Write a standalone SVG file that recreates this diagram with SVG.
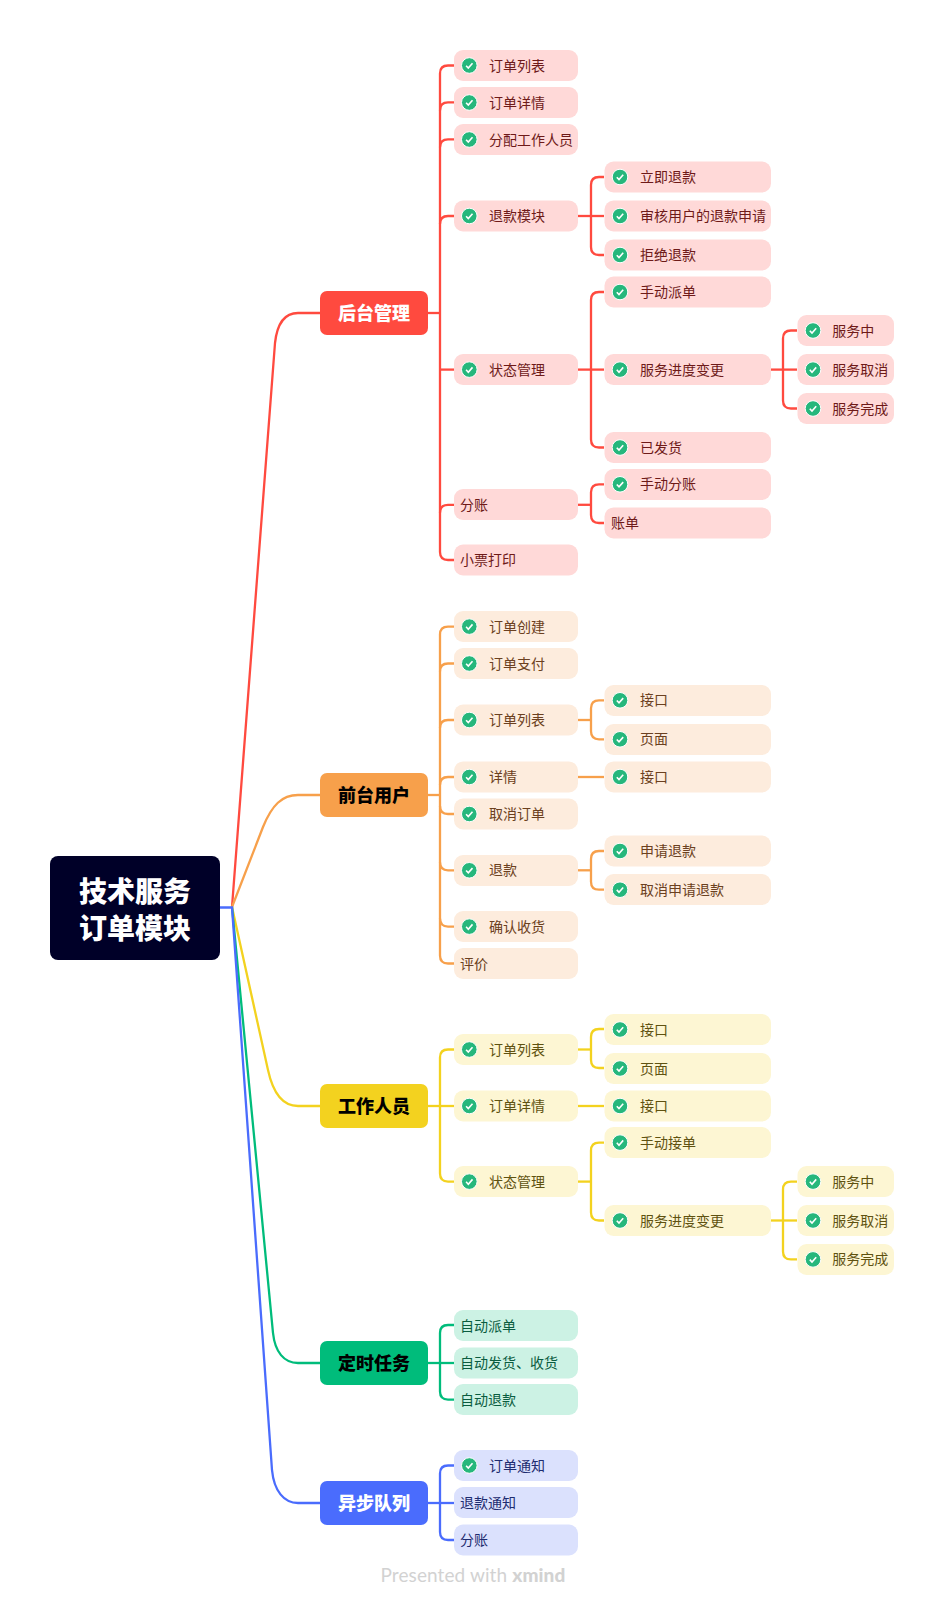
<svg xmlns="http://www.w3.org/2000/svg" width="944" height="1606" viewBox="0 0 944 1606">
<style>
text{font-family:"Noto Sans CJK SC","Noto Sans",sans-serif;font-size:14px;dominant-baseline:central;transform:translateY(-1px)}
.c path{fill:none;stroke-width:2.3}
.cr path{stroke:#ff4a3f}.co path{stroke:#f7a04b}.cy path{stroke:#f3d21f}.cg path{stroke:#00bc7b}.cb path{stroke:#4a6cfd}
.r rect{fill:#ffd9d8}.r text{fill:#6e1a18}
.o rect{fill:#fdecdd}.o text{fill:#6b4020}
.y rect{fill:#fdf6d3}.y text{fill:#5f5210}
.g rect{fill:#ccf2e4}.g text{fill:#0a5c40}
.b rect{fill:#dbe1fd}.b text{fill:#1e2c70}
.t text{font-size:18px;font-weight:900;text-anchor:middle}
.t rect{rx:7px}
.n rect{rx:9px}
#root text{font-size:28px;font-weight:900;fill:#fff;text-anchor:middle}
</style>
<defs>
<g id="chk"><circle r="7.8" fill="#26b77c" stroke="#fff" stroke-width="1"/><path d="M-3.2 0.2L-1 2.6L3.2-2.2" fill="none" stroke="#fff" stroke-width="1.6"/></g>
</defs>
<rect width="944" height="1606" fill="#fff"/>
<g id="connectors" class="c">
<g class="cr">
<path d="M232 907L275 343C277 325 284 313 298 313H320"/>
<path d="M428 313H440"/>
<path d="M454 65.5H448Q440 65.5 440 73.5V552Q440 560 448 560H454"/>
<path d="M440 110.4Q440 102.4 448 102.4H454"/>
<path d="M440 147.3Q440 139.3 448 139.3H454"/>
<path d="M440 224Q440 216 448 216H454"/>
<path d="M440 369.6H454"/>
<path d="M440 512.8Q440 504.8 448 504.8H454"/>
<path d="M578 216H604"/>
<path d="M604 177H599Q591 177 591 185V247Q591 255 599 255H604"/>
<path d="M578 369.6H604"/>
<path d="M604 292H599Q591 292 591 300V439.5Q591 447.5 599 447.5H604"/>
<path d="M578 504.8H591"/>
<path d="M604 484.3H599Q591 484.3 591 492.3V515Q591 523 599 523H604"/>
<path d="M771 369.6H797"/>
<path d="M797 330.5H791Q783 330.5 783 338.5V400.5Q783 408.5 791 408.5H797"/>
</g>
<g class="co">
<path d="M232 907L263 827C272 805 282 795 298 795H320"/>
<path d="M428 795H440"/>
<path d="M454 626.6H448Q440 626.6 440 634.6V955.5Q440 963.5 448 963.5H454"/>
<path d="M440 671.5Q440 663.5 448 663.5H454"/>
<path d="M440 728Q440 720 448 720H454"/>
<path d="M440 785Q440 777 448 777H454"/>
<path d="M440 806Q440 814 448 814H454"/>
<path d="M440 862.3Q440 870.3 448 870.3H454"/>
<path d="M440 918.6Q440 926.6 448 926.6H454"/>
<path d="M578 720H591"/>
<path d="M604 700.3H599Q591 700.3 591 708.3V731.3Q591 739.3 599 739.3H604"/>
<path d="M578 777H604"/>
<path d="M578 870.3H591"/>
<path d="M604 851H599Q591 851 591 859V881.7Q591 889.7 599 889.7H604"/>
</g>
<g class="cy">
<path d="M232 907L268 1070C273 1093 283 1106 298 1106H320"/>
<path d="M428 1106H454"/>
<path d="M454 1049.5H448Q440 1049.5 440 1057.5V1173.6Q440 1181.6 448 1181.6H454"/>
<path d="M578 1049.5H591"/>
<path d="M604 1029H599Q591 1029 591 1037V1060Q591 1068 599 1068H604"/>
<path d="M578 1106H604"/>
<path d="M578 1181.6H591"/>
<path d="M604 1142.6H599Q591 1142.6 591 1150.6V1212.5Q591 1220.5 599 1220.5H604"/>
<path d="M771 1220.5H797"/>
<path d="M797 1181.6H791Q783 1181.6 783 1189.6V1251.4Q783 1259.4 791 1259.4H797"/>
</g>
<g class="cg">
<path d="M232 907L273 1333C275 1352 284 1363 298 1363H320"/>
<path d="M428 1363H454"/>
<path d="M454 1325H448Q440 1325 440 1333V1391.6Q440 1399.6 448 1399.6H454"/>
</g>
<g class="cb">
<path d="M220 907.5H232L272 1470C274 1491 284 1503 298 1503H320"/>
<path d="M428 1503H454"/>
<path d="M454 1465.5H448Q440 1465.5 440 1473.5V1532Q440 1540 448 1540H454"/>
</g>
</g>

<g id="root"><rect x="50" y="856" width="170" height="104" rx="8" fill="#000028"/><text x="135" y="891">技术服务</text><text x="135" y="928">订单模块</text></g>

<g id="n-backend" class="t"><rect x="320" y="291" width="108" height="44" fill="#ff4a3f"/><text x="374" y="313" fill="#fff">后台管理</text></g>
<g id="n-front" class="t"><rect x="320" y="773" width="108" height="44" fill="#f7a04b"/><text x="374" y="795" fill="#000">前台用户</text></g>
<g id="n-worker" class="t"><rect x="320" y="1084" width="108" height="44" fill="#f3d21f"/><text x="374" y="1106" fill="#000">工作人员</text></g>
<g id="n-timer" class="t"><rect x="320" y="1341" width="108" height="44" fill="#00bc7b"/><text x="374" y="1363" fill="#000">定时任务</text></g>
<g id="n-queue" class="t"><rect x="320" y="1481" width="108" height="44" fill="#4a6cfd"/><text x="374" y="1503" fill="#fff">异步队列</text></g>

<g class="n r">
<g id="r1"><rect x="454" y="50" width="124" height="31"/><use href="#chk" x="469.3" y="65.5"/><text x="489" y="65.5">订单列表</text></g>
<g id="r2"><rect x="454" y="87" width="124" height="31"/><use href="#chk" x="469.3" y="102.5"/><text x="489" y="102.5">订单详情</text></g>
<g id="r3"><rect x="454" y="124" width="124" height="31"/><use href="#chk" x="469.3" y="139.5"/><text x="489" y="139.5">分配工作人员</text></g>
<g id="r4"><rect x="454" y="200.5" width="124" height="31"/><use href="#chk" x="469.3" y="216"/><text x="489" y="216">退款模块</text></g>
<g id="r41"><rect x="604.5" y="161.5" width="166.5" height="31"/><use href="#chk" x="620" y="177"/><text x="640" y="177">立即退款</text></g>
<g id="r42"><rect x="604.5" y="200.5" width="166.5" height="31"/><use href="#chk" x="620" y="216"/><text x="640" y="216">审核用户的退款申请</text></g>
<g id="r43"><rect x="604.5" y="239.5" width="166.5" height="31"/><use href="#chk" x="620" y="255"/><text x="640" y="255">拒绝退款</text></g>
<g id="r5"><rect x="454" y="354" width="124" height="31"/><use href="#chk" x="469.3" y="369.6"/><text x="489" y="369.6">状态管理</text></g>
<g id="r51"><rect x="604.5" y="276.5" width="166.5" height="31"/><use href="#chk" x="620" y="292"/><text x="640" y="292">手动派单</text></g>
<g id="r52"><rect x="604.5" y="354" width="166.5" height="31"/><use href="#chk" x="620" y="369.6"/><text x="640" y="369.6">服务进度变更</text></g>
<g id="r521"><rect x="797.5" y="315" width="96.5" height="31"/><use href="#chk" x="813" y="330.5"/><text x="832.3" y="330.5">服务中</text></g>
<g id="r522"><rect x="797.5" y="354" width="96.5" height="31"/><use href="#chk" x="813" y="369.6"/><text x="832.3" y="369.6">服务取消</text></g>
<g id="r523"><rect x="797.5" y="393" width="96.5" height="31"/><use href="#chk" x="813" y="408.5"/><text x="832.3" y="408.5">服务完成</text></g>
<g id="r53"><rect x="604.5" y="432" width="166.5" height="31"/><use href="#chk" x="620" y="447.5"/><text x="640" y="447.5">已发货</text></g>
<g id="r6"><rect x="454" y="489" width="124" height="31"/><text x="460" y="504.8">分账</text></g>
<g id="r61"><rect x="604.5" y="469" width="166.5" height="31"/><use href="#chk" x="620" y="484.3"/><text x="640" y="484.3">手动分账</text></g>
<g id="r62"><rect x="604.5" y="507.5" width="166.5" height="31"/><text x="611" y="523">账单</text></g>
<g id="r7"><rect x="454" y="544.5" width="124" height="31"/><text x="460" y="560">小票打印</text></g>
</g>

<g class="n o">
<g id="o1"><rect x="454" y="611" width="124" height="31"/><use href="#chk" x="469.3" y="626.6"/><text x="489" y="626.6">订单创建</text></g>
<g id="o2"><rect x="454" y="648" width="124" height="31"/><use href="#chk" x="469.3" y="663.5"/><text x="489" y="663.5">订单支付</text></g>
<g id="o3"><rect x="454" y="704.5" width="124" height="31"/><use href="#chk" x="469.3" y="720"/><text x="489" y="720">订单列表</text></g>
<g id="o31"><rect x="604.5" y="685" width="166.5" height="31"/><use href="#chk" x="620" y="700.3"/><text x="640" y="700.3">接口</text></g>
<g id="o32"><rect x="604.5" y="724" width="166.5" height="31"/><use href="#chk" x="620" y="739.3"/><text x="640" y="739.3">页面</text></g>
<g id="o4"><rect x="454" y="761.5" width="124" height="31"/><use href="#chk" x="469.3" y="777"/><text x="489" y="777">详情</text></g>
<g id="o41"><rect x="604.5" y="761.5" width="166.5" height="31"/><use href="#chk" x="620" y="777"/><text x="640" y="777">接口</text></g>
<g id="o5"><rect x="454" y="798.5" width="124" height="31"/><use href="#chk" x="469.3" y="814"/><text x="489" y="814">取消订单</text></g>
<g id="o6"><rect x="454" y="855" width="124" height="31"/><use href="#chk" x="469.3" y="870.3"/><text x="489" y="870.3">退款</text></g>
<g id="o61"><rect x="604.5" y="835.5" width="166.5" height="31"/><use href="#chk" x="620" y="851"/><text x="640" y="851">申请退款</text></g>
<g id="o62"><rect x="604.5" y="874" width="166.5" height="31"/><use href="#chk" x="620" y="889.7"/><text x="640" y="889.7">取消申请退款</text></g>
<g id="o7"><rect x="454" y="911" width="124" height="31"/><use href="#chk" x="469.3" y="926.6"/><text x="489" y="926.6">确认收货</text></g>
<g id="o8"><rect x="454" y="948" width="124" height="31"/><text x="460" y="963.5">评价</text></g>
</g>

<g class="n y">
<g id="y1"><rect x="454" y="1034" width="124" height="31"/><use href="#chk" x="469.3" y="1049.5"/><text x="489" y="1049.5">订单列表</text></g>
<g id="y11"><rect x="604.5" y="1014" width="166.5" height="31"/><use href="#chk" x="620" y="1029.5"/><text x="640" y="1029.5">接口</text></g>
<g id="y12"><rect x="604.5" y="1053" width="166.5" height="31"/><use href="#chk" x="620" y="1068.5"/><text x="640" y="1068.5">页面</text></g>
<g id="y2"><rect x="454" y="1090.5" width="124" height="31"/><use href="#chk" x="469.3" y="1106"/><text x="489" y="1106">订单详情</text></g>
<g id="y21"><rect x="604.5" y="1090.5" width="166.5" height="31"/><use href="#chk" x="620" y="1106"/><text x="640" y="1106">接口</text></g>
<g id="y3"><rect x="454" y="1166" width="124" height="31"/><use href="#chk" x="469.3" y="1181.6"/><text x="489" y="1181.6">状态管理</text></g>
<g id="y31"><rect x="604.5" y="1127" width="166.5" height="31"/><use href="#chk" x="620" y="1142.6"/><text x="640" y="1142.6">手动接单</text></g>
<g id="y32"><rect x="604.5" y="1205" width="166.5" height="31"/><use href="#chk" x="620" y="1220.5"/><text x="640" y="1220.5">服务进度变更</text></g>
<g id="y321"><rect x="797.5" y="1166" width="96.5" height="31"/><use href="#chk" x="813" y="1181.6"/><text x="832.3" y="1181.6">服务中</text></g>
<g id="y322"><rect x="797.5" y="1205" width="96.5" height="31"/><use href="#chk" x="813" y="1220.5"/><text x="832.3" y="1220.5">服务取消</text></g>
<g id="y323"><rect x="797.5" y="1244" width="96.5" height="31"/><use href="#chk" x="813" y="1259.4"/><text x="832.3" y="1259.4">服务完成</text></g>
</g>

<g class="n g">
<g id="g1"><rect x="454" y="1310" width="124" height="31"/><text x="460" y="1325.5">自动派单</text></g>
<g id="g2"><rect x="454" y="1347.5" width="124" height="31"/><text x="460" y="1363">自动发货、收货</text></g>
<g id="g3"><rect x="454" y="1384" width="124" height="31"/><text x="460" y="1399.6">自动退款</text></g>
</g>

<g class="n b">
<g id="b1"><rect x="454" y="1450" width="124" height="31"/><use href="#chk" x="469.3" y="1465.5"/><text x="489" y="1465.5">订单通知</text></g>
<g id="b2"><rect x="454" y="1487" width="124" height="31"/><text x="460" y="1502.7">退款通知</text></g>
<g id="b3"><rect x="454" y="1524.5" width="124" height="31"/><text x="460" y="1540">分账</text></g>
</g>

<text x="380.5" y="1575" fill="#d2d2d2" style="font-family:Lato,'Open Sans',sans-serif;font-size:19px;letter-spacing:.1px">Presented with <tspan font-weight="900">xmind</tspan></text>
</svg>
